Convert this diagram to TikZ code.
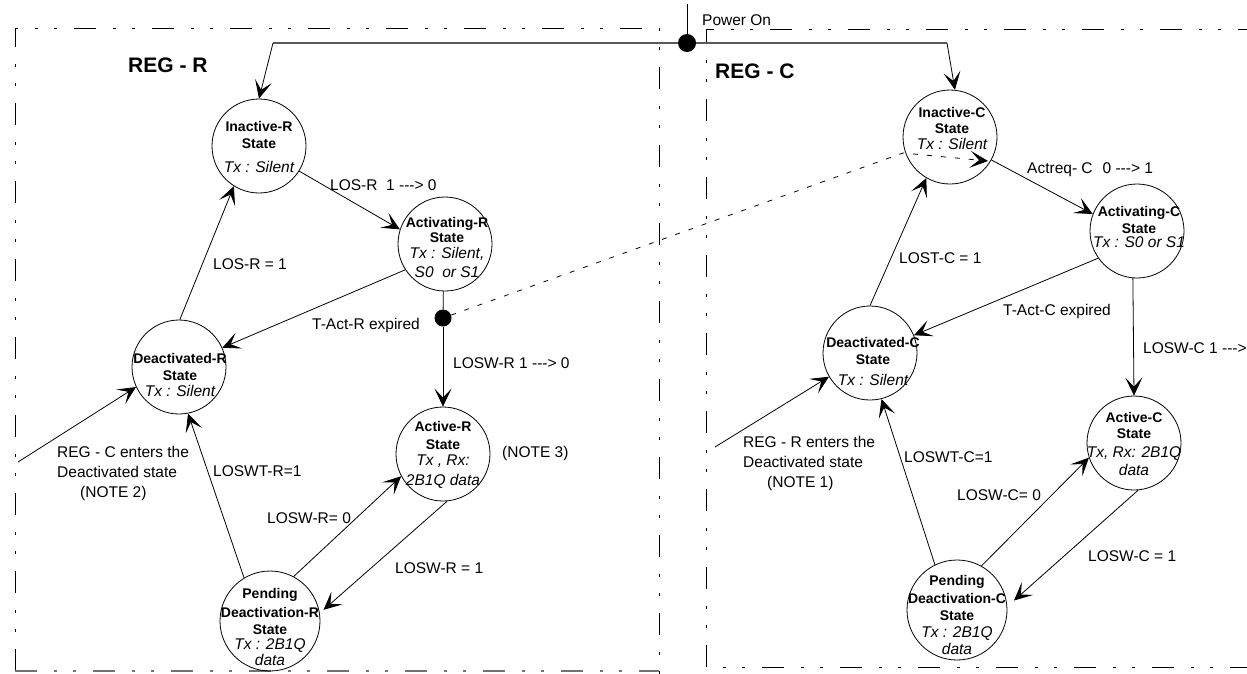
\documentclass[tikz,border=0pt]{standalone}
\usepackage{fontspec}
\setmainfont{Liberation Sans}
\usetikzlibrary{arrows.meta}

% an ascii arrow "--->" without dash ligatures
\newcommand\dasharr{-{}-{}->}
% text inside the state circles
\newcommand\sttl[1]{{\fontsize{14}{17}\selectfont\bfseries #1}}
\newcommand\stit[1]{{\fontsize{15.5}{17}\selectfont\itshape #1}}

\tikzset{
  state/.style={circle, draw, line width=0.8pt, inner sep=0pt, minimum size=94pt},
  pstate/.style={state, minimum size=100pt},
  stext/.style={align=center, inner sep=0pt, font=\fontsize{15}{17}\selectfont},
  lbl/.style={anchor=west, inner sep=0pt, font=\fontsize{15.5}{20}\selectfont},
  reglbl/.style={anchor=west, inner sep=0pt, font=\fontsize{21}{24}\selectfont\bfseries},
  tip/.tip={Stealth[length=18pt,width=17pt,inset=9pt]},
  tr/.style={draw, line width=0.8pt, -tip},
  plain/.style={draw, line width=0.8pt},
  dline/.style={draw, line width=0.8pt, dash pattern=on 5pt off 9pt, -tip},
  pline/.style={draw, line width=1.6pt, black!65},
  region/.style={line width=0.9pt, dash pattern=on 22pt off 17pt on 3pt off 16pt on 3pt off 17pt},
  blob/.style={circle, fill=black, inner sep=0pt, minimum size=18pt},
}

\begin{document}
\begin{tikzpicture}[x=1pt, y=-1pt]
\useasboundingbox (0,0) rectangle (1247,673);
\clip (0,0) rectangle (1247,673);

% region frames
\draw[region] (15,671) -- (15,28) -- (659,28) -- (659,675);
\draw[region, black!55, line width=1.6pt] (15,671) -- (659,671);
\draw[region] (1260,29) -- (706,29) -- (706,667) -- (1260,667);

\node[reglbl] (regR) at (128,65) {REG - R};
\node[reglbl] (regC) at (715,71) {REG - C};

% states of REG - R
\node[state]  (IR)   at (259,146) {};
\node[state]  (AR)   at (445,244) {};
\node[state]  (DR)   at (179,367) {};
\node[state]  (ActR) at (443,454) {};
\node[pstate] (PR)   at (270,621) {};

\node[stext] (IRt) at (259,146.5) {\sttl{Inactive-R}\\\sttl{State}\\[7pt]\stit{Tx : Silent}};
\node[stext] (ARt) at (447,247) {\sttl{Activating-R}\\[-2pt]\sttl{State}\\[-1pt]\stit{Tx : Silent,}\\[2pt]\stit{S0\ \ or S1}};
\node[stext] (DRt) at (180,374.5) {\sttl{Deactivated-R}\\\sttl{State}\\[-1pt]\stit{Tx : Silent}};
\node[stext] (ActRt) at (443,455) {\sttl{Active-R}\\[1pt]\sttl{State}\\[-1pt]\stit{Tx , Rx:}\\[3pt]\stit{2B1Q data}};
\node[stext] (PRt) at (270,626.5) {\sttl{Pending}\\[2pt]\sttl{Deactivation-R}\\\sttl{State}\\[-2pt]\stit{Tx : 2B1Q}\\[-1pt]\stit{data}};

% states of REG - C
\node[state]  (IC)   at (950,137) {};
\node[state]  (AC)   at (1137,231) {};
\node[state]  (DC)   at (870,353) {};
\node[state]  (ActC) at (1134,443) {};
\node[pstate] (PC)   at (957,610) {};

\node[stext] (ICt) at (952,128) {\sttl{Inactive-C}\\[-1pt]\sttl{State}\\[-1pt]\stit{Tx : Silent}};
\node[stext] (ACt) at (1139,226.5) {\sttl{Activating-C}\\\sttl{State}\\[-3pt]\stit{Tx : S0 or S1}};
\node[stext] (DCt) at (873,361) {\sttl{Deactivated-C}\\\sttl{State}\\[4pt]\stit{Tx : Silent}};
\node[stext] (ActCt) at (1134,443.5) {\sttl{Active-C}\\[-1pt]\sttl{State}\\[2pt]\stit{Tx, Rx: 2B1Q}\\[1pt]\stit{data}};
\node[stext] (PCt) at (957,614.5) {\sttl{Pending}\\[1pt]\sttl{Deactivation-C}\\\sttl{State}\\\stit{Tx : 2B1Q}\\\stit{data}};

% power-on feed
\coordinate (pL) at (273,43);
\coordinate (pR) at (947,43);
\coordinate (ptop) at (687,4);
\draw[pline] (pL) -- (pR);
\node[blob] (pdot) at (687,43) {};
\draw[plain] (pdot) -- (ptop);
\draw[tr] (pL) -- (IR.90);
\draw[tr] (pR) -- (IC.84);
\node[lbl] (pwr) at (702,20) {Power On};

% transitions of REG - R
\node[blob, minimum size=17pt] (dotR) at (443,318) {};
\draw[tr] (IR.-32) -- (AR.162);
\draw[tr] (DR.89) -- (IR.238);
\draw[tr] (AR.213) -- (DR.24);
\draw[plain] (AR.268) -- (dotR);
\draw[tr] (dotR) -- (ActR.north);
\coordinate (extC) at (18,462);
\draw[tr] (extC) -- (DR.205);
\draw[tr] (PR.121) -- (DR.281);
\draw[tr] (PR.62) -- (ActR.208);
\draw[tr, shorten >=5pt] (ActR.275) -- (PR.9);

% cross link towards REG - C
\coordinate (dbend) at (903,153);
\coordinate (dtip) at (988,161);
\draw[dline] (dotR) -- (dbend) -- (dtip);

% transitions of REG - C
\draw[tr] (IC.-29) -- (AC.159);
\draw[tr] (DC.90) -- (IC.240);
\draw[tr] (AC.215) -- (DC.22);
\draw[tr] (AC.265) -- (ActC.north);
\coordinate (extR) at (715,447);
\draw[tr] (extR) -- (DC.210);
\draw[tr] (PC.116) -- (DC.284);
\draw[tr] (PC.61) -- (ActC.198);
\draw[tr, shorten >=9pt] (ActC.275) -- (PC.4);

% transition labels
\node[lbl] (l1) at (330,185) {LOS-R\ \ 1 \dasharr\ 0};
\node[lbl] (l2) at (213,264) {LOS-R = 1};
\node[lbl] (l3) at (312,325) {T-Act-R expired};
\node[lbl] (l4) at (453,363) {LOSW-R 1 \dasharr\ 0};
\node[lbl] (l5) at (502,453) {(NOTE 3)};
\node[lbl, align=left, anchor=north west] (l6) at (57,446) {REG - C enters the\\Deactivated state\\\hspace*{23pt}(NOTE 2)};
\node[lbl] (l7) at (213,471) {LOSWT-R=1};
\node[lbl] (l8) at (267,518) {LOSW-R= 0};
\node[lbl] (l9) at (395,568) {LOSW-R = 1};

\node[lbl] (l10) at (1027,170) {Actreq- C\hspace{10pt}0 \dasharr\ 1};
\node[lbl] (l11) at (899,258) {LOST-C = 1};
\node[lbl] (l12) at (1003,311) {T-Act-C expired};
\node[lbl] (l13) at (1143,348) {LOSW-C 1 \dasharr};
\node[lbl, align=left, anchor=north west] (l14) at (743,436) {REG - R enters the\\Deactivated state\\\hspace*{24pt}(NOTE 1)};
\node[lbl] (l15) at (904,457) {LOSWT-C=1};
\node[lbl] (l16) at (957,495) {LOSW-C= 0};
\node[lbl] (l17) at (1088,556) {LOSW-C = 1};
\end{tikzpicture}
\end{document}
